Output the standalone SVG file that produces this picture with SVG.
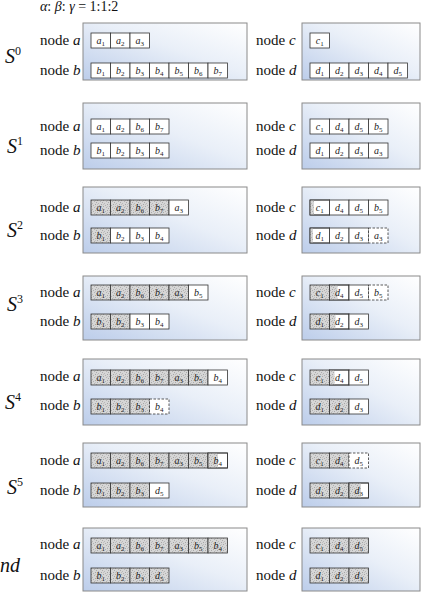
<svg xmlns="http://www.w3.org/2000/svg" width="425" height="593" viewBox="0 0 425 593">
<defs>
<linearGradient id="bg" x1="0" y1="1" x2="1" y2="0">
<stop offset="0" stop-color="#bccdea"/>
<stop offset="0.55" stop-color="#e9eff8"/>
<stop offset="1" stop-color="#ffffff"/>
</linearGradient>
<pattern id="stip" width="6" height="6" patternUnits="userSpaceOnUse">
<rect width="6" height="6" fill="#d6d6d6"/>
<rect x="0" y="0" width="1" height="1" fill="#a9a9a9"/>
<rect x="3" y="1" width="1" height="1" fill="#b4b4b4"/>
<rect x="5" y="2" width="1" height="1" fill="#ababab"/>
<rect x="1" y="3" width="1" height="1" fill="#b8b8b8"/>
<rect x="4" y="4" width="1" height="1" fill="#a6a6a6"/>
<rect x="2" y="5" width="1" height="1" fill="#b0b0b0"/>
<rect x="4" y="0" width="1" height="1" fill="#c2c2c2"/>
<rect x="0" y="4" width="1" height="1" fill="#c0c0c0"/>
</pattern>
</defs>
<style>
.box{fill:url(#bg);stroke:#8a8a8a;stroke-width:1}
.c{fill:#fff;stroke:#333;stroke-width:0.8}
.s{fill:url(#stip);stroke:#333;stroke-width:0.8}
.d{fill:#fff;stroke:#333;stroke-width:0.8;stroke-dasharray:2.5 1.5}
.p{fill:url(#stip);stroke:none}
.o{fill:none;stroke:#333;stroke-width:0.8}
text{font-family:'Liberation Serif','Times New Roman','DejaVu Serif',serif}
.n{font-size:15px;fill:#111}
.n tspan{font-style:italic}
.t{font-size:10px;font-style:italic;fill:#222;text-anchor:middle}
.t tspan{font-size:7px;font-style:normal}
.S{font-size:20px;font-style:italic;fill:#111}
.S tspan{font-size:12px;font-style:normal}
.h{font-size:14px;fill:#111}
.h tspan{font-style:italic}
</style>

<text class="h" x="40" y="11"><tspan>α</tspan>: <tspan>β</tspan>: <tspan>γ</tspan> = 1:1:2</text>

<!-- S0 -->
<g id="S0">
<text class="S" x="5" y="63">S<tspan dy="-8">0</tspan></text>
<g id="S0-ab">
<rect class="box" x="83" y="23" width="164" height="57"/>
<text class="n" x="40" y="45">node <tspan>a</tspan></text>
<text class="n" x="40" y="75">node <tspan>b</tspan></text>
<g transform="translate(91,33)">
<rect class="c" x="0" width="19.5" height="15"/><rect class="c" x="19.5" width="19.5" height="15"/><rect class="c" x="39" width="19.5" height="15"/>
<text class="t" x="9.75" y="11">a<tspan dy="2">1</tspan></text><text class="t" x="29.25" y="11">a<tspan dy="2">2</tspan></text><text class="t" x="48.75" y="11">a<tspan dy="2">3</tspan></text>
</g>
<g transform="translate(91,63)">
<rect class="c" x="0" width="19.5" height="15"/><rect class="c" x="19.5" width="19.5" height="15"/><rect class="c" x="39" width="19.5" height="15"/><rect class="c" x="58.5" width="19.5" height="15"/><rect class="c" x="78" width="19.5" height="15"/><rect class="c" x="97.5" width="19.5" height="15"/><rect class="c" x="117" width="19.5" height="15"/>
<text class="t" x="9.75" y="11">b<tspan dy="2">1</tspan></text><text class="t" x="29.25" y="11">b<tspan dy="2">2</tspan></text><text class="t" x="48.75" y="11">b<tspan dy="2">3</tspan></text><text class="t" x="68.25" y="11">b<tspan dy="2">4</tspan></text><text class="t" x="87.75" y="11">b<tspan dy="2">5</tspan></text><text class="t" x="107.25" y="11">b<tspan dy="2">6</tspan></text><text class="t" x="126.75" y="11">b<tspan dy="2">7</tspan></text>
</g>
</g>
<g id="S0-cd">
<rect class="box" x="302" y="23" width="118" height="57"/>
<text class="n" x="256" y="45">node <tspan>c</tspan></text>
<text class="n" x="256" y="75">node <tspan>d</tspan></text>
<g transform="translate(310,33)">
<rect class="c" x="0" width="19.5" height="15"/>
<text class="t" x="9.75" y="11">c<tspan dy="2">1</tspan></text>
</g>
<g transform="translate(310,63)">
<rect class="c" x="0" width="19.5" height="15"/><rect class="c" x="19.5" width="19.5" height="15"/><rect class="c" x="39" width="19.5" height="15"/><rect class="c" x="58.5" width="19.5" height="15"/><rect class="c" x="78" width="19.5" height="15"/>
<text class="t" x="9.75" y="11">d<tspan dy="2">1</tspan></text><text class="t" x="29.25" y="11">d<tspan dy="2">2</tspan></text><text class="t" x="48.75" y="11">d<tspan dy="2">3</tspan></text><text class="t" x="68.25" y="11">d<tspan dy="2">4</tspan></text><text class="t" x="87.75" y="11">d<tspan dy="2">5</tspan></text>
</g>
</g>
</g>

<!-- S1 -->
<g id="S1">
<text class="S" x="7" y="153">S<tspan dy="-8">1</tspan></text>
<g id="S1-ab">
<rect class="box" x="83" y="103" width="164" height="66"/>
<text class="n" x="40" y="131">node <tspan>a</tspan></text>
<text class="n" x="40" y="155">node <tspan>b</tspan></text>
<g transform="translate(91,119)">
<rect class="c" x="0" width="19.5" height="15"/><rect class="c" x="19.5" width="19.5" height="15"/><rect class="c" x="39" width="19.5" height="15"/><rect class="c" x="58.5" width="19.5" height="15"/>
<text class="t" x="9.75" y="11">a<tspan dy="2">1</tspan></text><text class="t" x="29.25" y="11">a<tspan dy="2">2</tspan></text><text class="t" x="48.75" y="11">b<tspan dy="2">6</tspan></text><text class="t" x="68.25" y="11">b<tspan dy="2">7</tspan></text>
</g>
<g transform="translate(91,143)">
<rect class="c" x="0" width="19.5" height="15"/><rect class="c" x="19.5" width="19.5" height="15"/><rect class="c" x="39" width="19.5" height="15"/><rect class="c" x="58.5" width="19.5" height="15"/>
<text class="t" x="9.75" y="11">b<tspan dy="2">1</tspan></text><text class="t" x="29.25" y="11">b<tspan dy="2">2</tspan></text><text class="t" x="48.75" y="11">b<tspan dy="2">3</tspan></text><text class="t" x="68.25" y="11">b<tspan dy="2">4</tspan></text>
</g>
</g>
<g id="S1-cd">
<rect class="box" x="302" y="103" width="118" height="66"/>
<text class="n" x="256" y="131">node <tspan>c</tspan></text>
<text class="n" x="256" y="155">node <tspan>d</tspan></text>
<g transform="translate(310,119)">
<rect class="c" x="0" width="19.5" height="15"/><rect class="c" x="19.5" width="19.5" height="15"/><rect class="c" x="39" width="19.5" height="15"/><rect class="c" x="58.5" width="19.5" height="15"/>
<text class="t" x="9.75" y="11">c<tspan dy="2">1</tspan></text><text class="t" x="29.25" y="11">d<tspan dy="2">4</tspan></text><text class="t" x="48.75" y="11">d<tspan dy="2">5</tspan></text><text class="t" x="68.25" y="11">b<tspan dy="2">5</tspan></text>
</g>
<g transform="translate(310,143)">
<rect class="c" x="0" width="19.5" height="15"/><rect class="c" x="19.5" width="19.5" height="15"/><rect class="c" x="39" width="19.5" height="15"/><rect class="c" x="58.5" width="19.5" height="15"/>
<text class="t" x="9.75" y="11">d<tspan dy="2">1</tspan></text><text class="t" x="29.25" y="11">d<tspan dy="2">2</tspan></text><text class="t" x="48.75" y="11">d<tspan dy="2">3</tspan></text><text class="t" x="68.25" y="11">a<tspan dy="2">3</tspan></text>
</g>
</g>
</g>

<!-- S2 -->
<g id="S2">
<text class="S" x="7" y="237">S<tspan dy="-8">2</tspan></text>
<g id="S2-ab">
<rect class="box" x="83" y="187" width="164" height="66"/>
<text class="n" x="40" y="212">node <tspan>a</tspan></text>
<text class="n" x="40" y="240">node <tspan>b</tspan></text>
<g transform="translate(91,200)">
<rect class="s" x="0" width="19.5" height="15"/><rect class="s" x="19.5" width="19.5" height="15"/><rect class="s" x="39" width="19.5" height="15"/><rect class="s" x="58.5" width="19.5" height="15"/><rect class="c" x="78" width="19.5" height="15"/>
<text class="t" x="9.75" y="11">a<tspan dy="2">1</tspan></text><text class="t" x="29.25" y="11">a<tspan dy="2">2</tspan></text><text class="t" x="48.75" y="11">b<tspan dy="2">6</tspan></text><text class="t" x="68.25" y="11">b<tspan dy="2">7</tspan></text><text class="t" x="87.75" y="11">a<tspan dy="2">3</tspan></text>
</g>
<g transform="translate(91,228)">
<rect class="s" x="0" width="19.5" height="15"/><rect class="c" x="19.5" width="19.5" height="15"/><rect class="c" x="39" width="19.5" height="15"/><rect class="c" x="58.5" width="19.5" height="15"/>
<text class="t" x="9.75" y="11">b<tspan dy="2">1</tspan></text><text class="t" x="29.25" y="11">b<tspan dy="2">2</tspan></text><text class="t" x="48.75" y="11">b<tspan dy="2">3</tspan></text><text class="t" x="68.25" y="11">b<tspan dy="2">4</tspan></text>
</g>
</g>
<g id="S2-cd">
<rect class="box" x="302" y="187" width="118" height="66"/>
<text class="n" x="256" y="212">node <tspan>c</tspan></text>
<text class="n" x="256" y="240">node <tspan>d</tspan></text>
<g transform="translate(310,200)">
<rect class="c" x="0" width="19.5" height="15"/><rect class="p" x="0" width="4" height="15"/><rect class="o" x="0" width="19.5" height="15"/><rect class="c" x="19.5" width="19.5" height="15"/><rect class="c" x="39" width="19.5" height="15"/><rect class="c" x="58.5" width="19.5" height="15"/>
<text class="t" x="9.75" y="11">c<tspan dy="2">1</tspan></text><text class="t" x="29.25" y="11">d<tspan dy="2">4</tspan></text><text class="t" x="48.75" y="11">d<tspan dy="2">5</tspan></text><text class="t" x="68.25" y="11">b<tspan dy="2">5</tspan></text>
</g>
<g transform="translate(310,228)">
<rect class="c" x="0" width="19.5" height="15"/><rect class="p" x="0" width="3" height="15"/><rect class="o" x="0" width="19.5" height="15"/><rect class="c" x="19.5" width="19.5" height="15"/><rect class="c" x="39" width="19.5" height="15"/><rect class="d" x="58.5" width="19.5" height="15"/>
<text class="t" x="9.75" y="11">d<tspan dy="2">1</tspan></text><text class="t" x="29.25" y="11">d<tspan dy="2">2</tspan></text><text class="t" x="48.75" y="11">d<tspan dy="2">3</tspan></text><text class="t" x="68.25" y="11">a<tspan dy="2">3</tspan></text>
</g>
</g>
</g>

<!-- S3 -->
<g id="S3">
<text class="S" x="7" y="311">S<tspan dy="-8">3</tspan></text>
<g id="S3-ab">
<rect class="box" x="83" y="276" width="164" height="64"/>
<text class="n" x="40" y="297">node <tspan>a</tspan></text>
<text class="n" x="40" y="326">node <tspan>b</tspan></text>
<g transform="translate(91,285)">
<rect class="s" x="0" width="19.5" height="15"/><rect class="s" x="19.5" width="19.5" height="15"/><rect class="s" x="39" width="19.5" height="15"/><rect class="s" x="58.5" width="19.5" height="15"/><rect class="s" x="78" width="19.5" height="15"/><rect class="c" x="97.5" width="19.5" height="15"/>
<text class="t" x="9.75" y="11">a<tspan dy="2">1</tspan></text><text class="t" x="29.25" y="11">a<tspan dy="2">2</tspan></text><text class="t" x="48.75" y="11">b<tspan dy="2">6</tspan></text><text class="t" x="68.25" y="11">b<tspan dy="2">7</tspan></text><text class="t" x="87.75" y="11">a<tspan dy="2">3</tspan></text><text class="t" x="107.25" y="11">b<tspan dy="2">5</tspan></text>
</g>
<g transform="translate(91,314)">
<rect class="s" x="0" width="19.5" height="15"/><rect class="s" x="19.5" width="19.5" height="15"/><rect class="c" x="39" width="19.5" height="15"/><rect class="c" x="58.5" width="19.5" height="15"/>
<text class="t" x="9.75" y="11">b<tspan dy="2">1</tspan></text><text class="t" x="29.25" y="11">b<tspan dy="2">2</tspan></text><text class="t" x="48.75" y="11">b<tspan dy="2">3</tspan></text><text class="t" x="68.25" y="11">b<tspan dy="2">4</tspan></text>
</g>
</g>
<g id="S3-cd">
<rect class="box" x="302" y="276" width="118" height="64"/>
<text class="n" x="256" y="297">node <tspan>c</tspan></text>
<text class="n" x="256" y="326">node <tspan>d</tspan></text>
<g transform="translate(310,285)">
<rect class="s" x="0" width="19.5" height="15"/><rect class="c" x="19.5" width="19.5" height="15"/><rect class="p" x="19.5" width="8" height="15"/><rect class="o" x="19.5" width="19.5" height="15"/><rect class="c" x="39" width="19.5" height="15"/><rect class="d" x="58.5" width="19.5" height="15"/>
<text class="t" x="9.75" y="11">c<tspan dy="2">1</tspan></text><text class="t" x="29.25" y="11">d<tspan dy="2">4</tspan></text><text class="t" x="48.75" y="11">d<tspan dy="2">5</tspan></text><text class="t" x="68.25" y="11">b<tspan dy="2">5</tspan></text>
</g>
<g transform="translate(310,314)">
<rect class="s" x="0" width="19.5" height="15"/><rect class="c" x="19.5" width="19.5" height="15"/><rect class="p" x="19.5" width="6" height="15"/><rect class="o" x="19.5" width="19.5" height="15"/><rect class="c" x="39" width="19.5" height="15"/>
<text class="t" x="9.75" y="11">d<tspan dy="2">1</tspan></text><text class="t" x="29.25" y="11">d<tspan dy="2">2</tspan></text><text class="t" x="48.75" y="11">d<tspan dy="2">3</tspan></text>
</g>
</g>
</g>

<!-- S4 -->
<g id="S4">
<text class="S" x="5" y="409">S<tspan dy="-8">4</tspan></text>
<g id="S4-ab">
<rect class="box" x="83" y="359" width="164" height="66"/>
<text class="n" x="40" y="381">node <tspan>a</tspan></text>
<text class="n" x="40" y="410">node <tspan>b</tspan></text>
<g transform="translate(91,370)">
<rect class="s" x="0" width="19.5" height="15"/><rect class="s" x="19.5" width="19.5" height="15"/><rect class="s" x="39" width="19.5" height="15"/><rect class="s" x="58.5" width="19.5" height="15"/><rect class="s" x="78" width="19.5" height="15"/><rect class="s" x="97.5" width="19.5" height="15"/><rect class="c" x="117" width="19.5" height="15"/>
<text class="t" x="9.75" y="11">a<tspan dy="2">1</tspan></text><text class="t" x="29.25" y="11">a<tspan dy="2">2</tspan></text><text class="t" x="48.75" y="11">b<tspan dy="2">6</tspan></text><text class="t" x="68.25" y="11">b<tspan dy="2">7</tspan></text><text class="t" x="87.75" y="11">a<tspan dy="2">3</tspan></text><text class="t" x="107.25" y="11">b<tspan dy="2">5</tspan></text><text class="t" x="126.75" y="11">b<tspan dy="2">4</tspan></text>
</g>
<g transform="translate(91,399)">
<rect class="s" x="0" width="19.5" height="15"/><rect class="s" x="19.5" width="19.5" height="15"/><rect class="s" x="39" width="19.5" height="15"/><rect class="d" x="58.5" width="19.5" height="15"/>
<text class="t" x="9.75" y="11">b<tspan dy="2">1</tspan></text><text class="t" x="29.25" y="11">b<tspan dy="2">2</tspan></text><text class="t" x="48.75" y="11">b<tspan dy="2">3</tspan></text><text class="t" x="68.25" y="11">b<tspan dy="2">4</tspan></text>
</g>
</g>
<g id="S4-cd">
<rect class="box" x="302" y="359" width="118" height="66"/>
<text class="n" x="256" y="381">node <tspan>c</tspan></text>
<text class="n" x="256" y="410">node <tspan>d</tspan></text>
<g transform="translate(310,370)">
<rect class="s" x="0" width="19.5" height="15"/><rect class="c" x="19.5" width="19.5" height="15"/><rect class="p" x="19.5" width="5" height="15"/><rect class="o" x="19.5" width="19.5" height="15"/><rect class="c" x="39" width="19.5" height="15"/>
<text class="t" x="9.75" y="11">c<tspan dy="2">1</tspan></text><text class="t" x="29.25" y="11">d<tspan dy="2">4</tspan></text><text class="t" x="48.75" y="11">d<tspan dy="2">5</tspan></text>
</g>
<g transform="translate(310,399)">
<rect class="s" x="0" width="19.5" height="15"/><rect class="s" x="19.5" width="19.5" height="15"/><rect class="c" x="39" width="19.5" height="15"/>
<text class="t" x="9.75" y="11">d<tspan dy="2">1</tspan></text><text class="t" x="29.25" y="11">d<tspan dy="2">2</tspan></text><text class="t" x="48.75" y="11">d<tspan dy="2">3</tspan></text>
</g>
</g>
</g>

<!-- S5 -->
<g id="S5">
<text class="S" x="7" y="494">S<tspan dy="-8">5</tspan></text>
<g id="S5-ab">
<rect class="box" x="83" y="443" width="164" height="64"/>
<text class="n" x="40" y="465">node <tspan>a</tspan></text>
<text class="n" x="40" y="495">node <tspan>b</tspan></text>
<g transform="translate(91,453)">
<rect class="s" x="0" width="19.5" height="15"/><rect class="s" x="19.5" width="19.5" height="15"/><rect class="s" x="39" width="19.5" height="15"/><rect class="s" x="58.5" width="19.5" height="15"/><rect class="s" x="78" width="19.5" height="15"/><rect class="s" x="97.5" width="19.5" height="15"/><rect class="c" x="117" width="19.5" height="15"/><rect class="p" x="117" width="10" height="15"/><rect class="o" x="117" width="19.5" height="15"/>
<text class="t" x="9.75" y="11">a<tspan dy="2">1</tspan></text><text class="t" x="29.25" y="11">a<tspan dy="2">2</tspan></text><text class="t" x="48.75" y="11">b<tspan dy="2">6</tspan></text><text class="t" x="68.25" y="11">b<tspan dy="2">7</tspan></text><text class="t" x="87.75" y="11">a<tspan dy="2">3</tspan></text><text class="t" x="107.25" y="11">b<tspan dy="2">5</tspan></text><text class="t" x="126.75" y="11">b<tspan dy="2">4</tspan></text>
</g>
<g transform="translate(91,483)">
<rect class="s" x="0" width="19.5" height="15"/><rect class="s" x="19.5" width="19.5" height="15"/><rect class="s" x="39" width="19.5" height="15"/><rect class="c" x="58.5" width="19.5" height="15"/>
<text class="t" x="9.75" y="11">b<tspan dy="2">1</tspan></text><text class="t" x="29.25" y="11">b<tspan dy="2">2</tspan></text><text class="t" x="48.75" y="11">b<tspan dy="2">3</tspan></text><text class="t" x="68.25" y="11">d<tspan dy="2">5</tspan></text>
</g>
</g>
<g id="S5-cd">
<rect class="box" x="302" y="443" width="118" height="64"/>
<text class="n" x="256" y="465">node <tspan>c</tspan></text>
<text class="n" x="256" y="495">node <tspan>d</tspan></text>
<g transform="translate(310,453)">
<rect class="s" x="0" width="19.5" height="15"/><rect class="s" x="19.5" width="19.5" height="15"/><rect class="d" x="39" width="19.5" height="15"/>
<text class="t" x="9.75" y="11">c<tspan dy="2">1</tspan></text><text class="t" x="29.25" y="11">d<tspan dy="2">4</tspan></text><text class="t" x="48.75" y="11">d<tspan dy="2">5</tspan></text>
</g>
<g transform="translate(310,483)">
<rect class="s" x="0" width="19.5" height="15"/><rect class="s" x="19.5" width="19.5" height="15"/><rect class="c" x="39" width="19.5" height="15"/><rect class="p" x="39" width="12" height="15"/><rect class="o" x="39" width="19.5" height="15"/>
<text class="t" x="9.75" y="11">d<tspan dy="2">1</tspan></text><text class="t" x="29.25" y="11">d<tspan dy="2">2</tspan></text><text class="t" x="48.75" y="11">d<tspan dy="2">3</tspan></text>
</g>
</g>
</g>

<!-- End -->
<g id="End">
<text class="S" x="0" y="572">nd</text>
<g id="End-ab">
<rect class="box" x="83" y="528" width="164" height="63"/>
<text class="n" x="40" y="549">node <tspan>a</tspan></text>
<text class="n" x="40" y="580">node <tspan>b</tspan></text>
<g transform="translate(91,538)">
<rect class="s" x="0" width="19.5" height="15"/><rect class="s" x="19.5" width="19.5" height="15"/><rect class="s" x="39" width="19.5" height="15"/><rect class="s" x="58.5" width="19.5" height="15"/><rect class="s" x="78" width="19.5" height="15"/><rect class="s" x="97.5" width="19.5" height="15"/><rect class="s" x="117" width="19.5" height="15"/>
<text class="t" x="9.75" y="11">a<tspan dy="2">1</tspan></text><text class="t" x="29.25" y="11">a<tspan dy="2">2</tspan></text><text class="t" x="48.75" y="11">b<tspan dy="2">6</tspan></text><text class="t" x="68.25" y="11">b<tspan dy="2">7</tspan></text><text class="t" x="87.75" y="11">a<tspan dy="2">3</tspan></text><text class="t" x="107.25" y="11">b<tspan dy="2">5</tspan></text><text class="t" x="126.75" y="11">b<tspan dy="2">4</tspan></text>
</g>
<g transform="translate(91,568)">
<rect class="s" x="0" width="19.5" height="15"/><rect class="s" x="19.5" width="19.5" height="15"/><rect class="s" x="39" width="19.5" height="15"/><rect class="s" x="58.5" width="19.5" height="15"/>
<text class="t" x="9.75" y="11">b<tspan dy="2">1</tspan></text><text class="t" x="29.25" y="11">b<tspan dy="2">2</tspan></text><text class="t" x="48.75" y="11">b<tspan dy="2">3</tspan></text><text class="t" x="68.25" y="11">d<tspan dy="2">5</tspan></text>
</g>
</g>
<g id="End-cd">
<rect class="box" x="302" y="528" width="118" height="63"/>
<text class="n" x="256" y="549">node <tspan>c</tspan></text>
<text class="n" x="256" y="580">node <tspan>d</tspan></text>
<g transform="translate(310,538)">
<rect class="s" x="0" width="19.5" height="15"/><rect class="s" x="19.5" width="19.5" height="15"/><rect class="s" x="39" width="19.5" height="15"/>
<text class="t" x="9.75" y="11">c<tspan dy="2">1</tspan></text><text class="t" x="29.25" y="11">d<tspan dy="2">4</tspan></text><text class="t" x="48.75" y="11">d<tspan dy="2">5</tspan></text>
</g>
<g transform="translate(310,568)">
<rect class="s" x="0" width="19.5" height="15"/><rect class="s" x="19.5" width="19.5" height="15"/><rect class="s" x="39" width="19.5" height="15"/>
<text class="t" x="9.75" y="11">d<tspan dy="2">1</tspan></text><text class="t" x="29.25" y="11">d<tspan dy="2">2</tspan></text><text class="t" x="48.75" y="11">d<tspan dy="2">3</tspan></text>
</g>
</g>
</g>
</svg>
